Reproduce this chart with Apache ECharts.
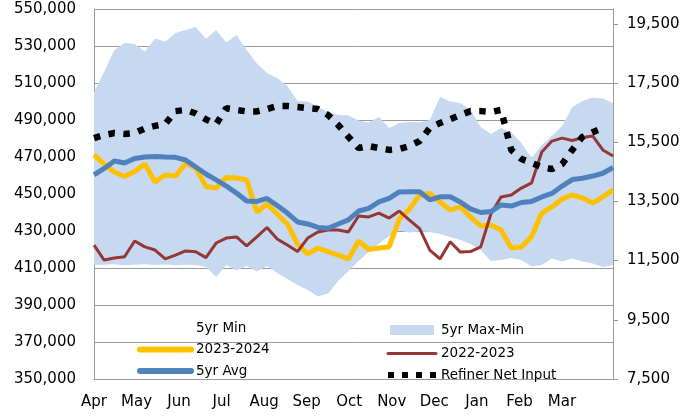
<!DOCTYPE html>
<html>
<head>
<meta charset="utf-8">
<script src="https://cdn.jsdelivr.net/npm/echarts/dist/echarts.min.js"></script>
<style>
  html, body { margin: 0; padding: 0; background: #fff; }
  #chart { width: 691px; height: 416px; }
</style>
</head>
<body>
<div id="chart"></div>
<script>
// weekly points, Apr -> Mar (thousand barrels on the left axis)
const weeks = Array.from({ length: 52 }, (_, i) => 'W' + (i + 1));
const months = ['Apr', 'May', 'Jun', 'Jul', 'Aug', 'Sep', 'Oct', 'Nov', 'Dec', 'Jan', 'Feb', 'Mar'];

const fiveYrMin = [411.6, 411.8, 412.0, 411.5, 411.7, 412.0, 411.6, 411.9, 411.5, 411.8,
  411.6, 410.5, 405.1, 411.6, 408.6, 411.1, 408.1, 411.1, 407.3, 404.1,
  400.8, 398.1, 394.6, 396.2, 403.0, 408.4, 413.8, 418.6, 423.2, 427.3,
  430.3, 429.2, 429.7, 429.5, 428.4, 426.8, 425.1, 423.0, 419.7, 413.8,
  414.3, 415.4, 414.3, 410.8, 411.6, 415.1, 413.5, 415.1, 413.5, 412.4,
  410.5, 411.6];

const fiveYrMax = [505.1, 515.9, 527.8, 531.6, 531.1, 527.0, 534.1, 532.4, 537.0, 538.6,
  540.3, 533.8, 538.6, 531.9, 535.9, 527.8, 520.5, 515.4, 512.7, 508.4,
  500.3, 500.0, 497.0, 494.3, 492.7, 492.4, 489.7, 488.6, 491.6, 485.7,
  488.4, 488.9, 488.6, 490.0, 502.4, 500.0, 499.2, 495.4, 486.2, 482.4,
  485.7, 483.5, 477.6, 469.5, 476.5, 481.4, 486.8, 497.0, 500.3, 502.2,
  501.6, 499.2];

const y2023_2024 = [471.1, 466.2, 461.9, 459.5, 462.2, 466.2, 456.5, 460.3, 459.7, 466.5,
  464.1, 454.1, 453.2, 458.9, 458.7, 457.6, 440.3, 444.6, 439.2, 433.8,
  423.0, 417.6, 420.7, 418.9, 417.0, 414.9, 424.6, 420.0, 420.8, 421.4,
  436.5, 441.9, 449.5, 450.3, 445.7, 441.4, 443.0, 437.6, 432.7, 433.2,
  430.5, 420.8, 421.4, 427.0, 439.7, 443.0, 447.3, 449.5, 447.8, 445.1,
  448.4, 452.2];

const y2022_2023 = [422.4, 414.3, 415.4, 416.1, 424.6, 421.4, 419.7, 414.9, 417.0, 419.2,
  418.8, 415.6, 423.5, 426.2, 426.8, 421.9, 426.8, 431.9, 425.7, 422.4,
  418.9, 426.2, 429.5, 430.5, 430.5, 429.5, 438.1, 437.6, 439.7, 437.0,
  440.8, 435.9, 431.3, 419.7, 414.9, 424.2, 418.6, 418.9, 421.4, 439.2,
  448.4, 449.5, 453.2, 456.0, 472.7, 478.6, 480.2, 478.9, 480.5, 481.4,
  473.8, 470.5];

const fiveYrAvg = [460.3, 463.8, 467.8, 466.8, 469.2, 470.0, 470.3, 470.0, 469.8, 468.4,
  464.6, 460.8, 457.6, 454.3, 450.5, 446.2, 446.0, 447.6, 443.8, 439.7,
  434.9, 433.8, 431.9, 431.5, 433.8, 436.0, 440.8, 442.2, 445.7, 447.6,
  451.1, 451.2, 451.2, 446.8, 448.5, 448.5, 445.7, 441.9, 440.0, 440.5,
  444.1, 443.5, 445.4, 446.0, 448.4, 450.3, 454.3, 457.8, 458.5, 459.7,
  461.2, 464.3];

// right axis
const refinerNetInput = [15640, 15740, 15810, 15780, 15810, 15960, 16050, 16110, 16550, 16590,
  16470, 16270, 16110, 16650, 16590, 16540, 16540, 16620, 16720, 16720,
  16690, 16650, 16620, 16420, 16080, 15680, 15300, 15370, 15300, 15240,
  15270, 15370, 15540, 15980, 16150, 16280, 16420, 16550, 16550, 16520,
  16590, 15240, 14930, 14800, 14660, 14590, 14760, 15240, 15680, 15840,
  15980, null];

const bandWidth = fiveYrMax.map((v, i) => +(v - fiveYrMin[i]).toFixed(1));

const font = 'DejaVu Sans';
const gridGray = '#9a9a9a';
const noDot = { opacity: 0 }; // hide the circle ECharts puts on line legend icons

const chart = echarts.init(document.getElementById('chart'));

const option = {
  animation: false,
  grid: { left: 94, right: 78, top: 9, bottom: 37 },
  xAxis: [
    {
      type: 'category',
      data: weeks,
      boundaryGap: false,
      axisLine: { show: true, lineStyle: { color: gridGray } },
      axisTick: { show: false },
      axisLabel: { show: false },
      splitLine: { show: false }
    },
    {
      // month labels only
      type: 'value',
      position: 'bottom',
      min: 0,
      max: 12.2,
      interval: 1,
      axisLine: { show: false },
      axisTick: { show: false },
      splitLine: { show: false },
      axisLabel: {
        showMaxLabel: false,
        margin: 16,
        fontFamily: font,
        fontSize: 15,
        color: '#000',
        formatter: v => months[v] || ''
      }
    }
  ],
  yAxis: [
    {
      type: 'value',
      min: 350,
      max: 550,
      interval: 20,
      axisLine: { show: true, lineStyle: { color: gridGray } },
      axisTick: { show: false },
      splitLine: { lineStyle: { color: gridGray, width: 1 } },
      axisLabel: {
        margin: 18,
        fontFamily: font,
        fontSize: 15,
        color: '#000',
        formatter: v => (v * 1000).toLocaleString('en-US')
      }
    },
    {
      type: 'value',
      position: 'right',
      min: 7500,
      max: 20000,
      interval: 2000,
      axisLine: { show: true, lineStyle: { color: gridGray } },
      axisTick: { show: true, length: 5, lineStyle: { color: gridGray } },
      splitLine: { show: false },
      axisLabel: {
        showMaxLabel: false,
        margin: 14,
        fontFamily: font,
        fontSize: 15,
        color: '#000',
        formatter: v => v.toLocaleString('en-US')
      }
    }
  ],
  legend: [
    {
      left: 132,
      top: 316,
      orient: 'vertical',
      itemWidth: 51,
      itemHeight: 14,
      itemGap: 7.5,
      selectedMode: false,
      textStyle: { fontFamily: font, fontSize: 13.5, color: '#000' },
      data: [
        { name: '5yr Min', icon: 'none' },
        { name: '2023-2024', itemStyle: noDot, lineStyle: { width: 6, cap: 'round' } },
        { name: '5yr Avg', itemStyle: noDot, lineStyle: { width: 6, cap: 'round' } }
      ]
    },
    {
      left: 380,
      top: 316,
      orient: 'vertical',
      itemWidth: 48,
      itemHeight: 14,
      itemGap: 7.5,
      selectedMode: false,
      textStyle: { fontFamily: font, fontSize: 13.5, color: '#000' },
      data: [
        { name: '5yr Max-Min', icon: 'rect', itemStyle: { color: '#C6D9F1', borderColor: '#fff', borderWidth: 4 } },
        { name: '2022-2023', itemStyle: noDot, lineStyle: { width: 3, cap: 'round' } },
        { name: 'Refiner Net Input', itemStyle: noDot, lineStyle: { width: 6, type: [6, 8] } }
      ]
    }
  ],
  series: [
    {
      name: '5yr Min',
      type: 'line',
      stack: 'band',
      data: fiveYrMin,
      symbol: 'none',
      silent: true,
      lineStyle: { width: 0 },
      itemStyle: { color: 'rgba(0,0,0,0)' },
      z: 1
    },
    {
      name: '5yr Max-Min',
      type: 'line',
      stack: 'band',
      data: bandWidth,
      symbol: 'none',
      silent: true,
      lineStyle: { width: 0 },
      itemStyle: { color: '#C6D9F1' },
      areaStyle: { color: '#C6D9F1', opacity: 1 },
      z: 1
    },
    {
      name: '2023-2024',
      type: 'line',
      data: y2023_2024,
      symbol: 'none',
      itemStyle: { color: '#FFC000' },
      lineStyle: { color: '#FFC000', width: 5 },
      z: 2
    },
    {
      name: '2022-2023',
      type: 'line',
      data: y2022_2023,
      symbol: 'none',
      itemStyle: { color: '#953735' },
      lineStyle: { color: '#953735', width: 3 },
      z: 3
    },
    {
      name: '5yr Avg',
      type: 'line',
      data: fiveYrAvg,
      symbol: 'none',
      itemStyle: { color: '#4F81BD' },
      lineStyle: { color: '#4F81BD', width: 5 },
      z: 4
    },
    {
      name: 'Refiner Net Input',
      type: 'line',
      yAxisIndex: 1,
      data: refinerNetInput,
      symbol: 'none',
      itemStyle: { color: '#000' },
      lineStyle: { color: '#000', width: 6.5, type: [6.5, 8.5] },
      z: 5
    }
  ]
};

option && chart.setOption(option);
</script>
</body>
</html>
